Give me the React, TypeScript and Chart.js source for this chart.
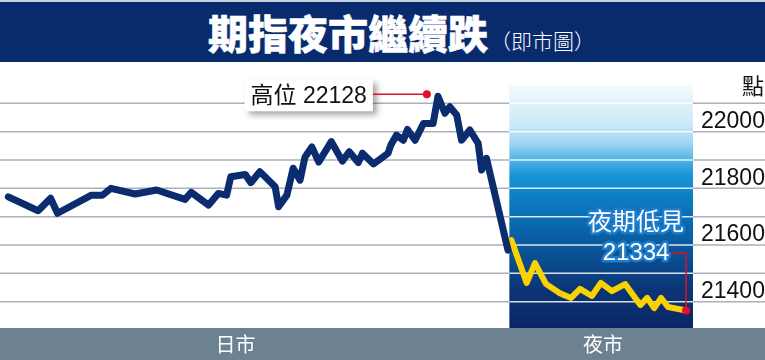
import { useEffect, useRef } from "react";
import { Chart, registerables } from "chart.js";

Chart.register(...registerables);

// ---- text ----
const TITLE = "期指夜市繼續跌";
const SUBTITLE = "（即市圖）";
const UNIT = "點";
const highLabel = "高位 22128";
const lowLabel1 = "夜期低見";
const lowLabel2 = "21334";

// ---- data (x: session time position 0..100, y: index points) ----
const dayX = [1.2, 5.5, 7.3, 8.3, 13.2, 14.8, 16.0, 19.5, 22.6, 26.7, 27.6, 30.1, 31.5, 32.7, 33.3, 35.4, 36.2, 37.5, 39.7, 40.2, 41.4, 42.3, 43.3, 44.0, 45.0, 46.0, 47.8, 49.4, 50.4, 51.7, 52.3, 53.9, 56.0, 56.4, 57.2, 58.2, 58.8, 59.9, 61.1, 62.5, 63.2, 64.2, 64.9, 65.9, 66.6, 67.8, 69.0, 69.5, 70.2, 73.3];
const dayY = [21735, 21686, 21730, 21677, 21741, 21741, 21765, 21745, 21759, 21726, 21751, 21706, 21747, 21741, 21806, 21814, 21785, 21824, 21771, 21700, 21741, 21836, 21794, 21875, 21911, 21858, 21930, 21861, 21894, 21856, 21889, 21851, 21889, 21918, 21953, 21935, 21973, 21935, 21994, 21994, 22090, 22030, 22053, 22024, 21935, 21971, 21924, 21830, 21871, 21547];
const nightX = [73.8, 76.0, 77.2, 78.8, 80.8, 82.4, 83.7, 85.4, 86.7, 88.3, 90.2, 92.4, 93.4, 94.4, 95.4, 96.4, 99.0];
const nightY = [21582, 21431, 21501, 21427, 21395, 21378, 21410, 21385, 21431, 21402, 21427, 21353, 21378, 21342, 21378, 21346, 21334];

const yTicks = [21400, 21600, 21800, 22000];
const gridValues = [21365, 21465, 21565, 21665, 21765, 21865, 21965, 22065];
const sessionLabels = ["日市", "夜市"];
const sessionPos = [34, 87];
const nightStart = 73.5;
const nightTop = 22130;
const highAnchor = { x: 61.6, y: 22097 };

const FONT = '"Liberation Sans", "Noto Sans CJK TC", sans-serif';

const decor = {
  id: "decor",
  beforeDraw(chart: any) {
    const { ctx, chartArea } = chart;
    ctx.save();
    ctx.fillStyle = "#ffffff";
    ctx.fillRect(0, 0, chart.width, chartArea.bottom);
    ctx.fillStyle = "#6c8293";
    ctx.fillRect(0, chartArea.bottom, chart.width, chart.height - chartArea.bottom);
    ctx.restore();
  },
  beforeDatasetsDraw(chart: any) {
    const { ctx, chartArea } = chart;
    const xs = chart.scales.x;
    const ys = chart.scales.y;
    ctx.save();
    ctx.strokeStyle = "#adafba";
    ctx.lineWidth = 1.5;
    for (const v of gridValues) {
      const y = ys.getPixelForValue(v);
      ctx.beginPath();
      ctx.moveTo(0, y);
      ctx.lineTo(chart.width, y);
      ctx.stroke();
    }
    const x0 = xs.getPixelForValue(nightStart);
    const x1 = chartArea.right;
    const yT = ys.getPixelForValue(nightTop);
    const yB = chartArea.bottom;
    const g = ctx.createLinearGradient(0, yT, 0, yB);
    g.addColorStop(0, "#f6fbfe");
    g.addColorStop(0.06, "#e4f3fb");
    g.addColorStop(0.165, "#cbe9f8");
    g.addColorStop(0.247, "#97d3f1");
    g.addColorStop(0.31, "#4db2e6");
    g.addColorStop(0.37, "#1a95d6");
    g.addColorStop(0.47, "#0b7cc2");
    g.addColorStop(0.6, "#0a63a9");
    g.addColorStop(0.72, "#0a4d8f");
    g.addColorStop(0.845, "#0b3575");
    g.addColorStop(1, "#0b2566");
    ctx.fillStyle = g;
    ctx.fillRect(x0, yT, x1 - x0, yB - yT);
    ctx.strokeStyle = "rgba(255,255,255,0.85)";
    for (const v of gridValues) {
      const y = ys.getPixelForValue(v);
      if (y < yT) continue;
      ctx.beginPath();
      ctx.moveTo(x0, y);
      ctx.lineTo(x1, y);
      ctx.stroke();
    }
    ctx.restore();
  },
  afterDatasetsDraw(chart: any) {
    const { ctx } = chart;
    const xs = chart.scales.x;
    const ys = chart.scales.y;
    ctx.save();
    ctx.font = `23px ${FONT}`;
    // high annotation
    const hx = xs.getPixelForValue(highAnchor.x);
    const hy = ys.getPixelForValue(highAnchor.y);
    const tw = ctx.measureText(highLabel).width;
    const boxW = tw + 12;
    const boxH = 32;
    const boxR = hx - 54;
    const boxL = boxR - boxW;
    const boxT = hy - 15;
    ctx.save();
    ctx.shadowColor = "rgba(0,0,0,0.35)";
    ctx.shadowBlur = 6;
    ctx.shadowOffsetX = 4;
    ctx.shadowOffsetY = 4;
    ctx.fillStyle = "#ffffff";
    ctx.fillRect(boxL, boxT, boxW, boxH);
    ctx.restore();
    ctx.fillStyle = "#111111";
    ctx.textAlign = "center";
    ctx.textBaseline = "middle";
    ctx.fillText(highLabel, boxL + boxW / 2, boxT + boxH / 2 + 1);
    ctx.strokeStyle = "#e0102a";
    ctx.lineWidth = 1.5;
    ctx.beginPath();
    ctx.moveTo(boxR, hy);
    ctx.lineTo(hx, hy);
    ctx.stroke();
    ctx.fillStyle = "#e0102a";
    ctx.beginPath();
    ctx.arc(hx, hy, 4, 0, Math.PI * 2);
    ctx.fill();

    // low annotation
    const n = nightX.length - 1;
    const lx = xs.getPixelForValue(nightX[n]);
    const ly = ys.getPixelForValue(nightY[n]);
    const numY = ly - 57.5;
    const labY = ly - 87.5;
    const cx = lx - 50;
    ctx.beginPath();
    ctx.moveTo(lx - 16, numY);
    ctx.lineTo(lx, numY);
    ctx.lineTo(lx, ly);
    ctx.stroke();
    ctx.beginPath();
    ctx.arc(lx, ly, 4, 0, Math.PI * 2);
    ctx.fill();
    ctx.lineJoin = "round";
    ctx.textAlign = "center";
    ctx.font = `24px ${FONT}`;
    for (const [t, y] of [[lowLabel1, labY], [lowLabel2, numY]] as [string, number][]) {
      ctx.strokeStyle = "rgba(30,125,205,0.95)";
      ctx.lineWidth = 5;
      ctx.strokeText(t, cx, y);
      ctx.fillStyle = "#ffffff";
      ctx.fillText(t, cx, y);
    }
    ctx.restore();
  },
};

export default function App() {
  const ref = useRef<HTMLCanvasElement | null>(null);
  useEffect(() => {
    if (!ref.current) return;
    const chart = new Chart(ref.current, {
      type: "line",
      data: {
        datasets: [
          {
            label: "日市",
            data: dayX.map((x, i) => ({ x, y: dayY[i] })),
            borderColor: "#0b2d6f",
            borderWidth: 7,
            pointRadius: 0,
            tension: 0,
            borderCapStyle: "round",
            borderJoinStyle: "round",
          },
          {
            label: "夜市",
            data: nightX.map((x, i) => ({ x, y: nightY[i] })),
            borderColor: "#fad200",
            borderWidth: 6,
            pointRadius: 0,
            tension: 0,
            borderCapStyle: "round",
            borderJoinStyle: "round",
          },
        ],
      },
      options: {
        responsive: false,
        animation: false,
        layout: { padding: { top: 62, left: 0, right: 0, bottom: 0 } },
        plugins: { legend: { display: false }, tooltip: { enabled: false }, title: { display: false } },
        scales: {
          x: {
            type: "linear",
            min: 0,
            max: 100,
            grid: { display: false, drawTicks: false },
            border: { display: false },
            afterBuildTicks: (s: any) => {
              s.ticks = sessionPos.map((v) => ({ value: v }));
            },
            afterFit: (s: any) => {
              s.height = 32;
            },
            ticks: {
              autoSkip: false,
              maxRotation: 0,
              padding: 4,
              color: "#ffffff",
              font: { size: 20, family: '"Noto Sans CJK TC", sans-serif' },
              callback: (v: any) => sessionLabels[sessionPos.indexOf(Number(v))] ?? "",
            },
          },
          y: {
            type: "linear",
            position: "right",
            min: 21272,
            max: 22211,
            grid: { display: false, drawTicks: false },
            border: { display: false },
            afterBuildTicks: (s: any) => {
              s.ticks = yTicks.map((v) => ({ value: v }));
            },
            afterFit: (s: any) => {
              s.width = 72;
            },
            ticks: {
              padding: 8,
              color: "#111111",
              font: { size: 23, family: FONT },
              callback: (v: any) => String(v),
            },
          },
        },
      },
      plugins: [decor],
    });
    return () => chart.destroy();
  }, []);

  return (
    <div style={{ position: "absolute", left: 0, top: 0, width: 765, height: 360, overflow: "hidden", background: "#fff" }}>
      <canvas ref={ref} width={765} height={360} style={{ position: "absolute", left: 0, top: 0, width: 765, height: 360 }} />
      <div style={{ position: "absolute", left: 0, top: 0, width: 765, height: 2, background: "#c9d3de" }} />
      <div
        style={{
          position: "absolute",
          left: 0,
          top: 2,
          width: 765,
          height: 60,
          background: "#082b6e",
          display: "flex",
          alignItems: "baseline",
          paddingLeft: 208,
          boxSizing: "border-box",
          lineHeight: "60px",
          color: "#ffffff",
          fontFamily: '"Noto Sans CJK TC", sans-serif',
        }}
      >
        <span style={{ fontSize: 40, fontWeight: 900, WebkitTextStroke: "0.5px #ffffff" } as any}>{TITLE}</span>
        <span style={{ fontSize: 21, fontWeight: 300, marginLeft: 2 }}>{SUBTITLE}</span>
      </div>
      <div
        style={{
          position: "absolute",
          left: 742,
          top: 70,
          fontSize: 22,
          lineHeight: "28px",
          color: "#111",
          fontFamily: '"Noto Sans CJK TC", sans-serif',
        }}
      >
        {UNIT}
      </div>
    </div>
  );
}
